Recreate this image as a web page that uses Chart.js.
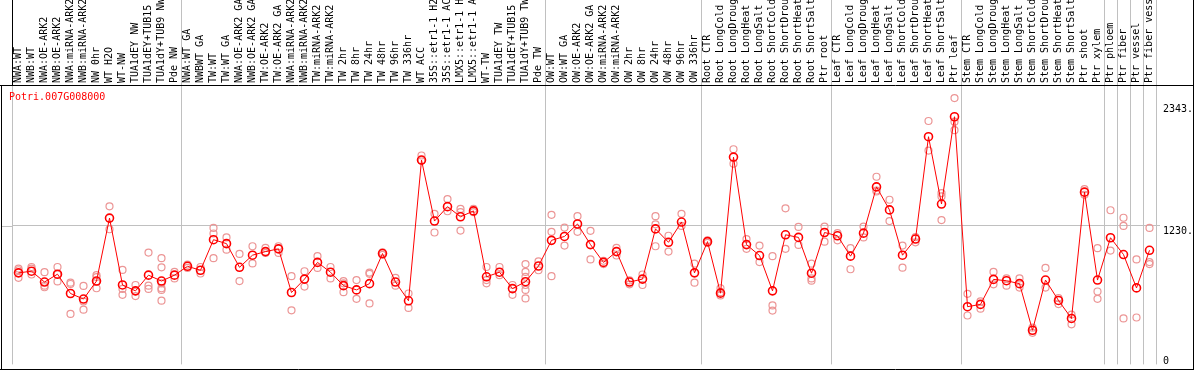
<!DOCTYPE html>
<html>
<head>
<meta charset="utf-8">
<script src="https://cdn.jsdelivr.net/npm/chart.js@4/dist/chart.umd.min.js"></script>
<style>
html,body{margin:0;padding:0;background:#fff;}
canvas{display:block;}
</style>
</head>
<body>
<canvas id="c" width="1194" height="370"></canvas>
<script>
const geneName = 'Potri.007G008000';

const categories = ['NWA:WT','NWB:WT','NWA:OE-ARK2','NWB:OE-ARK2','NWA:miRNA-ARK2','NWB:miRNA-ARK2','NW 0hr','WT H2O','WT-NW','TUA1dEY NW','TUA1dEY+TUB15 NW','TUA1dY+TUB9 NW','Pde NW','NWA:WT GA','NWBWT GA','TW:WT','TW:WT GA','NWA:OE-ARK2 GA','NWB:OE-ARK2 GA','TW:OE-ARK2','TW:OE-ARK2 GA','NWA:miRNA-ARK2','NWB:miRNA-ARK2','TW:miRNA-ARK2','TW:miRNA-ARK2','TW 2hr','TW 8hr','TW 24hr','TW 48hr','TW 96hr','TW 336hr','WT ACC','35S::etr1-1 H2O','35S::etr1-1 ACC','LMX5::etr1-1 H2O','LMX5::etr1-1 ACC','WT-TW','TUA1dEY TW','TUA1dEY+TUB15 TW','TUA1dY+TUB9 TW','Pde TW','OW:WT','OW:WT GA','OW:OE-ARK2','OW:OE-ARK2 GA','OW:miRNA-ARK2','OW:miRNA-ARK2','OW 2hr','OW 8hr','OW 24hr','OW 48hr','OW 96hr','OW 336hr','Root CTR','Root LongCold','Root LongDrought','Root LongHeat','Root LongSalt','Root ShortCold','Root ShortDrought','Root ShortHeat','Root ShortSalt','Ptr root','Leaf CTR','Leaf LongCold','Leaf LongDrought','Leaf LongHeat','Leaf LongSalt','Leaf ShortCold','Leaf ShortDrought','Leaf ShortHeat','Leaf ShortSalt','Ptr leaf','Stem CTR','Stem LongCold','Stem LongDrought','Stem LongHeat','Stem LongSalt','Stem ShortCold','Stem ShortDrought','Stem ShortHeat','Stem ShortSalt','Ptr shoot','Ptr xylem','Ptr phloem','Ptr fiber','Ptr vessel','Ptr fiber vessel'];

const meanValues = [
  800, 815, 716, 788, 611, 560, 725, 1302, 689, 635,
  779, 725, 779, 860, 824, 1104, 1068, 851, 962, 995,
  1020, 620, 743, 896, 806, 683, 644, 701, 977, 716,
  544, 1834, 1275, 1407, 1314, 1368, 764, 806, 656, 719,
  863, 1098, 1134, 1248, 1059, 896, 995, 716, 743, 1203,
  1080, 1266, 800, 1086, 614, 1861, 1059, 959, 635, 1149,
  1125, 797, 1170, 1140, 953, 1164, 1588, 1377, 962, 1110,
  2048, 1431, 2231, 490, 511, 740, 728, 701, 274, 734,
  547, 382, 1540, 734, 1122, 968, 662, 1007
];

const replicateValues = [
  [839, 824, 755], [854, 839, 785], [806, 683, 668], [854, 785, 722], [710, 698, 424],
  [680, 538, 463], [779, 761, 719, 659], [1410, 1200], [827, 653, 599], [689, 629, 587],
  [986, 683, 653], [935, 851, 704, 659, 644, 545], [809, 749], [875, 845], [854, 794],
  [1212, 1161, 935], [1125, 1013], [974, 725], [1044, 887], [1029, 983],
  [1044, 983], [770, 457], [815, 674], [953, 845], [854, 749],
  [725, 704, 623], [734, 562], [803, 791, 520], [989, 965], [755, 683],
  [611, 479], [1876, 1831], [1341, 1170], [1476, 1365], [1386, 1356, 1188],
  [1386, 1356], [854, 734, 704], [854, 779], [689, 599], [881, 809, 764, 689, 644, 566],
  [905, 824], [1332, 1176, 770], [1215, 1050], [1320, 1176], [1185, 923],
  [911, 881], [1029, 959], [731, 695], [785, 689], [1320, 1245, 1044],
  [1140, 995], [1341, 1230], [884, 710], [1098, 1074], [659, 623, 593],
  [1933, 1801], [1110, 1020], [1050, 899], [953, 502, 454], [1392, 1020],
  [1221, 1056], [884, 749, 728], [1224, 1086], [1164, 1098], [1026, 833],
  [1224, 1125], [1681, 1555, 1546], [1470, 1275], [1050, 848], [1128, 1080],
  [2192, 1921], [1531, 1501, 1284], [2402, 2186, 2108], [608, 409], [538, 472],
  [809, 695], [749, 683], [749, 665], [298, 250], [845, 665],
  [569, 514], [418, 328], [1567, 1516], [1026, 629, 562], [1374, 1004],
  [1305, 1230, 382], [923, 391], [1212, 899, 881]
];

const yTickValues = [0, 1230, 2343];
const yTickLabels = ['0', '1230.', '2343.'];
const yGridValues = [1230];
const groupStarts = [0, 13, 41, 53, 63, 73, 84, 85, 86, 87];

const GRID = '#c0c0c0';
const NONE = 'rgba(0,0,0,0)';
const MONO = '"DejaVu Sans Mono", "Liberation Mono", monospace';

// replicate datasets (k-th replicate of each category)
const maxReps = Math.max(...replicateValues.map(r => r.length));
const repDatasets = [];
for (let k = 0; k < maxReps; k++) {
  repDatasets.push({
    data: replicateValues.map(r => (r.length > k ? r[k] : null)),
    showLine: false,
    pointRadius: 3.5,
    pointBorderWidth: 1.2,
    pointBorderColor: '#ec9696',
    pointBackgroundColor: NONE,
    order: 1
  });
}

const framePlugin = {
  id: 'frame',
  afterDraw(chart) {
    const {ctx, chartArea, width, height} = chart;
    const ys = chart.scales.y;
    ctx.save();
    ctx.strokeStyle = GRID;
    ctx.lineWidth = 1;
    yGridValues.forEach(v => {
      const py = Math.round(ys.getPixelForValue(v)) + 0.5;
      ctx.beginPath();
      ctx.moveTo(1, py);
      ctx.lineTo(chartArea.left, py);
      ctx.stroke();
    });
    ctx.strokeStyle = '#000';
    ctx.beginPath();
    ctx.moveTo(0, chartArea.top + 0.5); ctx.lineTo(width, chartArea.top + 0.5);
    ctx.moveTo(0, height - 0.5); ctx.lineTo(width, height - 0.5);
    ctx.moveTo(1.5, chartArea.top); ctx.lineTo(1.5, height);
    ctx.moveTo(width - 0.5, 0); ctx.lineTo(width - 0.5, height);
    ctx.stroke();
    ctx.fillStyle = '#ff0000';
    ctx.font = '10px ' + MONO;
    ctx.textBaseline = 'middle';
    ctx.textAlign = 'left';
    ctx.fillText(geneName, chartArea.left - 3, chartArea.top + 12);
    ctx.restore();
  }
};

new Chart(document.getElementById('c'), {
  type: 'line',
  data: {
    labels: categories,
    datasets: [
      {
        data: meanValues,
        borderColor: '#ff0000',
        borderWidth: 1,
        tension: 0,
        pointRadius: 4,
        pointBorderWidth: 1.6,
        pointBorderColor: '#ff0000',
        pointBackgroundColor: NONE,
        order: 0
      },
      ...repDatasets
    ]
  },
  options: {
    responsive: false,
    animation: false,
    events: [],
    layout: {padding: {left: 12, right: 0, top: 0, bottom: 1}},
    plugins: {legend: {display: false}, tooltip: {enabled: false}, title: {display: false}},
    scales: {
      x: {
        type: 'category',
        position: 'top',
        offset: true,
        afterFit: s => { s.height = 85; s.paddingLeft = 0; s.paddingRight = 0; s.paddingTop = 0; s.paddingBottom = 0; },
        border: {display: false},
        grid: {
          offset: true,
          drawTicks: true,
          tickLength: 85,
          lineWidth: 1,
          color: c => (c.type !== 'tick' || groupStarts.includes(c.index)) ? GRID : NONE,
          tickColor: c => (c.type !== 'tick') ? GRID : (c.index === 0 ? '#000' : (groupStarts.includes(c.index) ? GRID : NONE))
        },
        ticks: {
          autoSkip: false,
          minRotation: 90,
          maxRotation: 90,
          padding: -83,
          labelOffset: 12,
          color: '#000',
          font: {family: MONO, size: 10}
        }
      },
      y: {
        type: 'linear',
        position: 'right',
        min: -39,
        max: 2522,
        afterFit: s => { s.width = 38; s.paddingLeft = 0; s.paddingRight = 0; s.paddingTop = 0; s.paddingBottom = 0; },
        afterBuildTicks: s => { s.ticks = yTickValues.map(v => ({value: v})); },
        border: {display: false},
        grid: {
          drawTicks: true,
          tickLength: 4,
          color: c => (c.tick && yGridValues.includes(c.tick.value)) ? GRID : NONE
        },
        ticks: {
          padding: 3,
          labelOffset: 5,
          color: '#000',
          font: c => (c.tick && c.tick.value === yTickValues[0])
            ? {family: MONO, size: 10, lineHeight: '8px'}
            : {family: MONO, size: 10},
          callback: (value) => {
            const lbl = yTickLabels[yTickValues.indexOf(value)];
            return value === yTickValues[0] ? [lbl, ''] : lbl;
          }
        }
      }
    }
  },
  plugins: [framePlugin]
});
</script>
</body>
</html>
